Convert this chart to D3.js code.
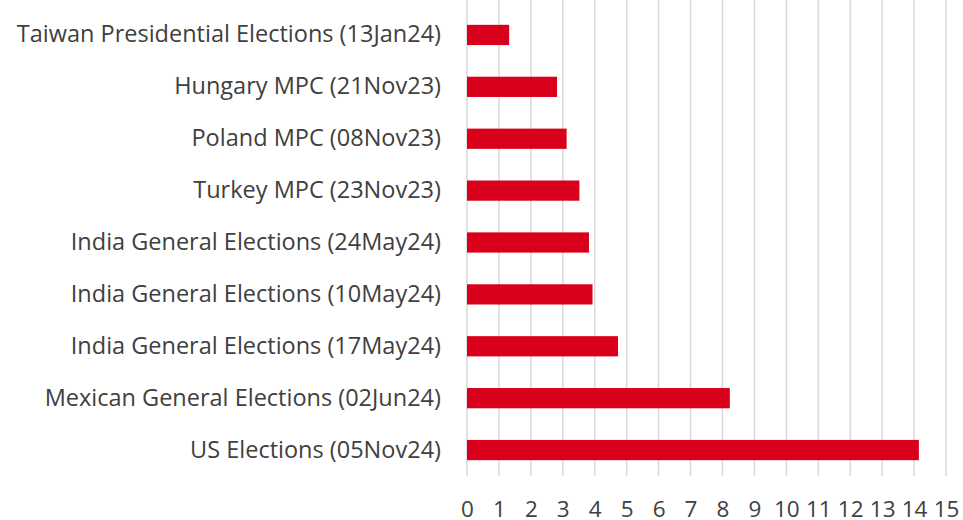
<!DOCTYPE html>
<html><head><meta charset="utf-8">
<script src="https://cdn.jsdelivr.net/npm/d3@7"></script>
<style>body{margin:0;background:#fff}svg{display:block}</style>
</head><body>
<svg id="c" width="963" height="520"></svg>
<script>
const categories = ["Taiwan Presidential Elections (13Jan24)","Hungary MPC (21Nov23)","Poland MPC (08Nov23)","Turkey MPC (23Nov23)","India General Elections (24May24)","India General Elections (10May24)","India General Elections (17May24)","Mexican General Elections (02Jun24)","US Elections (05Nov24)"];
const values = [1.32, 2.82, 3.12, 3.52, 3.82, 3.93, 4.73, 8.23, 14.15];
const ticks = [0,1,2,3,4,5,6,7,8,9,10,11,12,13,14,15];

(function(){
const svg = d3.select("#c");
const mLeft = 467, mRight = 946, mTop = 9, mBottom = 476;
const x = d3.scaleLinear().domain([0,15]).range([mLeft,mRight]);
const y = d3.scaleBand().domain(categories).range([mTop,mBottom]).paddingInner(0.61).paddingOuter(0.305);
const font = "'Open Sans', sans-serif";

svg.append("g").selectAll("line").data(ticks).join("line")
  .attr("x1", d=>x(d)).attr("x2", d=>x(d)).attr("y1", 0).attr("y2", mBottom)
  .attr("stroke", "#d9d9d9").attr("stroke-width", 1.5);

svg.append("g").selectAll("rect").data(values).join("rect")
  .attr("x", x(0)).attr("y", (d,i)=>y(categories[i]))
  .attr("width", d=>x(d)-x(0)).attr("height", y.bandwidth())
  .attr("fill", "#d9001b");

const xa = svg.append("g").attr("transform", `translate(0,${mBottom})`)
  .call(d3.axisBottom(x).tickValues(ticks).tickSize(0));
xa.select(".domain").remove();
xa.selectAll("text").attr("font-family", font).attr("font-size", 22.5).attr("fill", "#404040")
  .attr("dy", 0).attr("y", 41);

const ya = svg.append("g").attr("transform", `translate(${mLeft},0)`)
  .call(d3.axisLeft(y).tickSize(0).tickPadding(26));
ya.select(".domain").remove();
ya.selectAll("text").attr("font-family", font).attr("font-size", 23.5).attr("fill", "#404040");
})();
</script>
</body></html>
